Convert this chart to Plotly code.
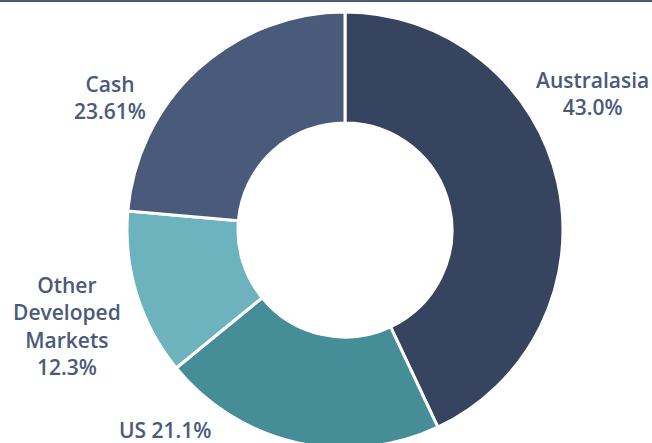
import plotly.graph_objects as go

# Data
regions = ["Australasia", "US", "Other Developed Markets", "Cash"]
weights = [43.0, 21.1, 12.3, 23.61]
label_text = ["Australasia<br>43.0%", "US 21.1%", "Other<br>Developed<br>Markets<br>12.3%", "Cash<br>23.61%"]

colors = ["#37445f", "#458e98", "#6db3bd", "#4a5a7b"]
text_color = "#4a5a7b"

W, H = 652, 448
T, B = 12, 0
CX = 345  # pie centre x in px
R = (H - T - B) / 2

fig = go.Figure(go.Pie(
    labels=regions,
    values=weights,
    hole=107 / 218,
    sort=False,
    direction="clockwise",
    rotation=0,
    marker=dict(colors=colors, line=dict(color="white", width=3)),
    textinfo="none",
    hoverinfo="label+percent",
    showlegend=False,
    domain=dict(x=[(CX - R - 1) / W, (CX + R + 1) / W], y=[0, 1]),
))

# label positions in pixels (centre of text block)
label_pos = [(592, 93), (165, 430), (67, 326), (110, 97)]
ph = H - T - B
for txt, (px, py) in zip(label_text, label_pos):
    fig.add_annotation(
        x=px / W, y=(H - B - py) / ph, xref="paper", yref="paper",
        text=txt, showarrow=False, xanchor="center", yanchor="middle",
        align="center",
        font=dict(family="Open Sans", size=21, color=text_color, weight=600),
    )

# top rule
ytop = 1 + (T - 1) / ph
fig.add_shape(type="line", xref="paper", yref="paper", x0=0, x1=1, y0=ytop, y1=ytop,
              line=dict(color="#4a5a78", width=2))

fig.update_layout(
    width=W, height=H,
    margin=dict(l=0, r=0, t=T, b=B),
    paper_bgcolor="white", plot_bgcolor="white",
)

fig.write_html(
    "out.html",
    config={"displayModeBar": False},
    post_script="document.body.style.margin='0';document.body.style.overflow='hidden';",
)
